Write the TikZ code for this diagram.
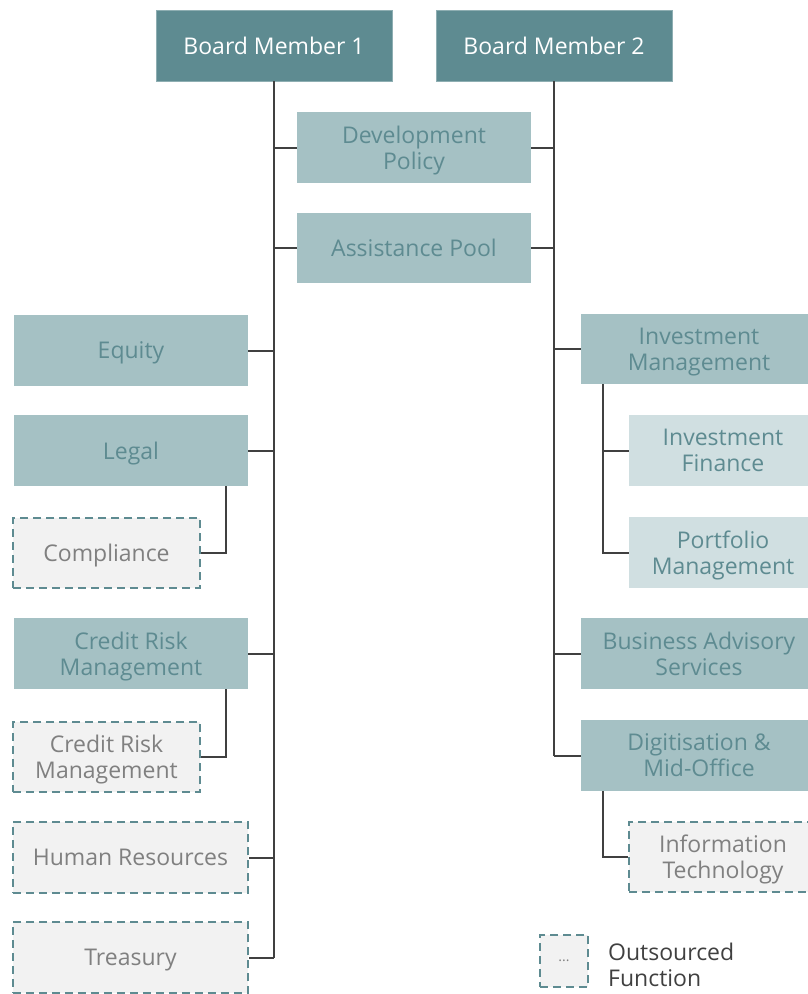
\documentclass[tikz,border=0pt]{standalone}
\usepackage{fontspec}
\setmainfont{Open Sans}
\usetikzlibrary{calc}
\definecolor{teal}{HTML}{5E8B91}
\definecolor{midfill}{HTML}{A5C1C4}
\definecolor{lightfill}{HTML}{D0DFE1}
\definecolor{outfill}{HTML}{F2F2F2}
\definecolor{outtext}{HTML}{808080}
\definecolor{linecol}{HTML}{404040}
\tikzset{
  base/.style={rectangle, inner sep=0pt, align=center, text depth=0pt,
    font=\fontsize{23}{26}\selectfont},
  headbox/.style={base, fill=teal, draw=teal!70!white, line width=0.8pt, text=white},
  midbox/.style={base, fill=midfill, text=teal},
  lightbox/.style={base, fill=lightfill, text=teal},
  outbox/.style={base, fill=outfill, draw=teal, line width=2.4pt,
    dash pattern=on 8pt off 5pt, text=outtext},
  conn/.style={draw=linecol, line width=2pt},
  sz/.style 2 args={minimum width=#1pt, minimum height=#2pt}
}
\begin{document}
\begin{tikzpicture}[x=1pt,y=-1pt]
\useasboundingbox (0,0) rectangle (807,994);
% board members
\node[headbox, sz={236}{71}] (bm1) at (274,45.5) {Board Member 1};
\node[headbox, sz={236}{71}] (bm2) at (554,45.5) {Board Member 2};
% shared units
\node[midbox, sz={234}{71}] (dev) at (414,147.5) {Development\\Policy};
\node[midbox, sz={234}{70}] (pool) at (414,248) {Assistance Pool};
% left column
\node[midbox, sz={234}{71}] (equity) at (131,350.5) {Equity};
\node[midbox, sz={234}{71}] (legal) at (131,450.5) {Legal};
\node[outbox, sz={187}{70}] (comp) at (106.5,553) {Compliance};
\node[midbox, sz={234}{71}] (crm) at (131,653.5) {Credit Risk\\Management};
\node[outbox, sz={187}{70}] (crmo) at (106.5,757) {Credit Risk\\Management};
\node[outbox, sz={235}{71}] (hr) at (130.5,857.5) {Human Resources};
\node[outbox, sz={235}{71}] (treas) at (130.5,957.5) {Treasury};
% right column (boxes run on past the right edge)
\node[midbox, sz={236}{70}] (invm) at (699,349) {Investment\\Management};
\node[lightbox, sz={188}{71}] (invf) at (723,450.5) {Investment\\Finance};
\node[lightbox, sz={188}{71}] (portf) at (723,552.5) {Portfolio\\Management};
\node[midbox, sz={236}{71}] (bas) at (699,653.5) {Business Advisory\\Services};
\node[midbox, sz={236}{71}] (digi) at (699,755.5) {Digitisation \&\\Mid-Office};
\node[outbox, sz={188}{70}] (it) at (723,857) {Information\\Technology};
% legend
\node[outbox, sz={48}{52}, font=\fontsize{14}{16}\selectfont] (leg) at (564,961) {...};
\node[base, anchor=west, align=left, text=linecol] (legtxt) at (608,965) {Outsourced\\Function};
% trunks
\draw[conn] (bm1.south) -- (bm1.south |- treas.east);
\draw[conn] (bm2.south) -- (bm2.south |- digi.west);
% branches of board member 1
\foreach \n in {dev,pool} \draw[conn] (\n.west) -- (\n.west -| bm1.south);
\foreach \n in {equity,legal,crm,hr,treas} \draw[conn] (\n.east) -- (\n.east -| bm1.south);
% branches of board member 2
\foreach \n in {dev,pool} \draw[conn] (\n.east) -- (\n.east -| bm2.south);
\foreach \n in {invm,bas,digi} \draw[conn] (\n.west) -- (\n.west -| bm2.south);
% sub-units
\coordinate (lx) at ($(legal.south east)+(-22,0)$);
\draw[conn] (lx) |- (comp.east);
\coordinate (cx) at ($(crm.south east)+(-22,0)$);
\draw[conn] (cx) |- (crmo.east);
\coordinate (ix) at ($(invm.south west)+(22,0)$);
\draw[conn] (ix) |- (portf.west);
\draw[conn] (ix |- invf.west) -- (invf.west);
\coordinate (dx) at ($(digi.south west)+(22,0)$);
\draw[conn] (dx) |- (it.west);
\end{tikzpicture}
\end{document}
